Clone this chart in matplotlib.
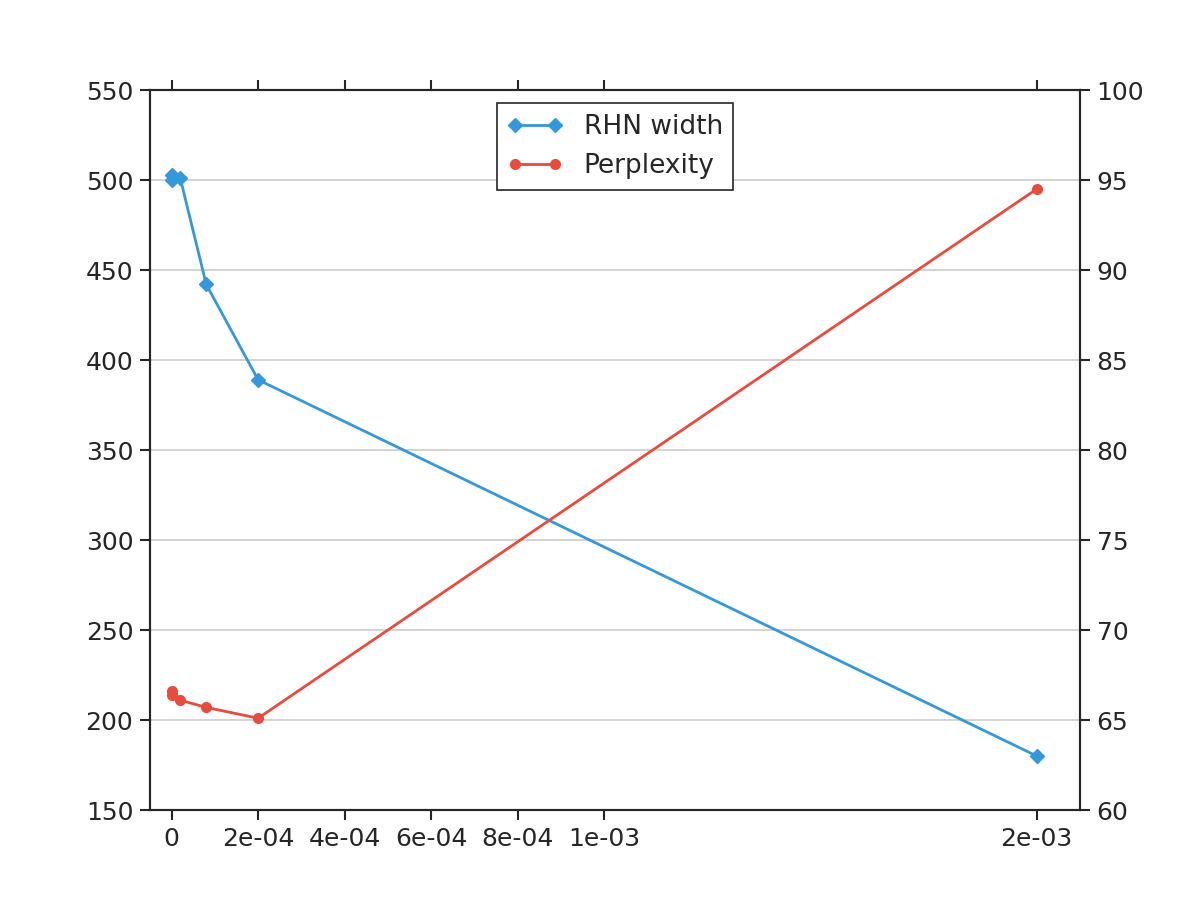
import matplotlib
matplotlib.use("Agg")
import matplotlib.pyplot as plt

x_vals = [0, 1e-6, 2e-5, 8e-5, 2e-4, 2e-3]
rhn_width = [503, 500, 501, 442, 389, 180]
perplexity = [66.6, 66.4, 66.1, 65.7, 65.1, 94.5]
x_ticks = [0, 2e-4, 4e-4, 6e-4, 8e-4, 1e-3, 2e-3]
x_tick_labels = ["0", "2e-04", "4e-04", "6e-04", "8e-04", "1e-03", "2e-03"]

blue = "#3498db"
red = "#e74c3c"
dark = "#262626"

fig = plt.figure(figsize=(12, 9), dpi=100)
ax1 = fig.add_axes([0.125, 0.1, 0.775, 0.8])
ax2 = ax1.twinx()

l1, = ax1.plot(x_vals, rhn_width, color=blue, marker="D", markersize=7, lw=2, label="RHN width", zorder=3)
l2, = ax2.plot(x_vals, perplexity, color=red, marker="o", markersize=7, lw=2, label="Perplexity", zorder=3)

ax1.set_xlim(-5e-5, 2.1e-3)
ax1.set_ylim(150, 550)
ax2.set_ylim(60, 100)
ax1.set_xticks(x_ticks)
ax1.set_xticklabels(x_tick_labels)
ax1.set_yticks(range(150, 551, 50))
ax2.set_yticks(range(60, 101, 5))

ax1.yaxis.grid(True, color="#cccccc", lw=1.2)
ax1.set_axisbelow(True)

for ax in (ax1, ax2):
    for s in ax.spines.values():
        s.set_color(dark)
        s.set_linewidth(1.5)
    ax.tick_params(axis="both", direction="out", length=7, width=1.5, color=dark,
                   labelsize=18, labelcolor=dark, pad=5)
ax1.tick_params(axis="x", top=True)
ax2.tick_params(axis="y", right=True)

leg = ax2.legend([l1, l2], ["RHN width", "Perplexity"], loc="upper center",
                 fontsize=19, numpoints=2, fancybox=False, framealpha=1,
                 edgecolor=dark, borderaxespad=0.5, handlelength=2.1,
                 handletextpad=0.8, labelspacing=0.5, borderpad=0.4)
leg.get_frame().set_linewidth(1.2)
for t in leg.get_texts():
    t.set_color(dark)

fig.savefig("out.png", dpi=100)
